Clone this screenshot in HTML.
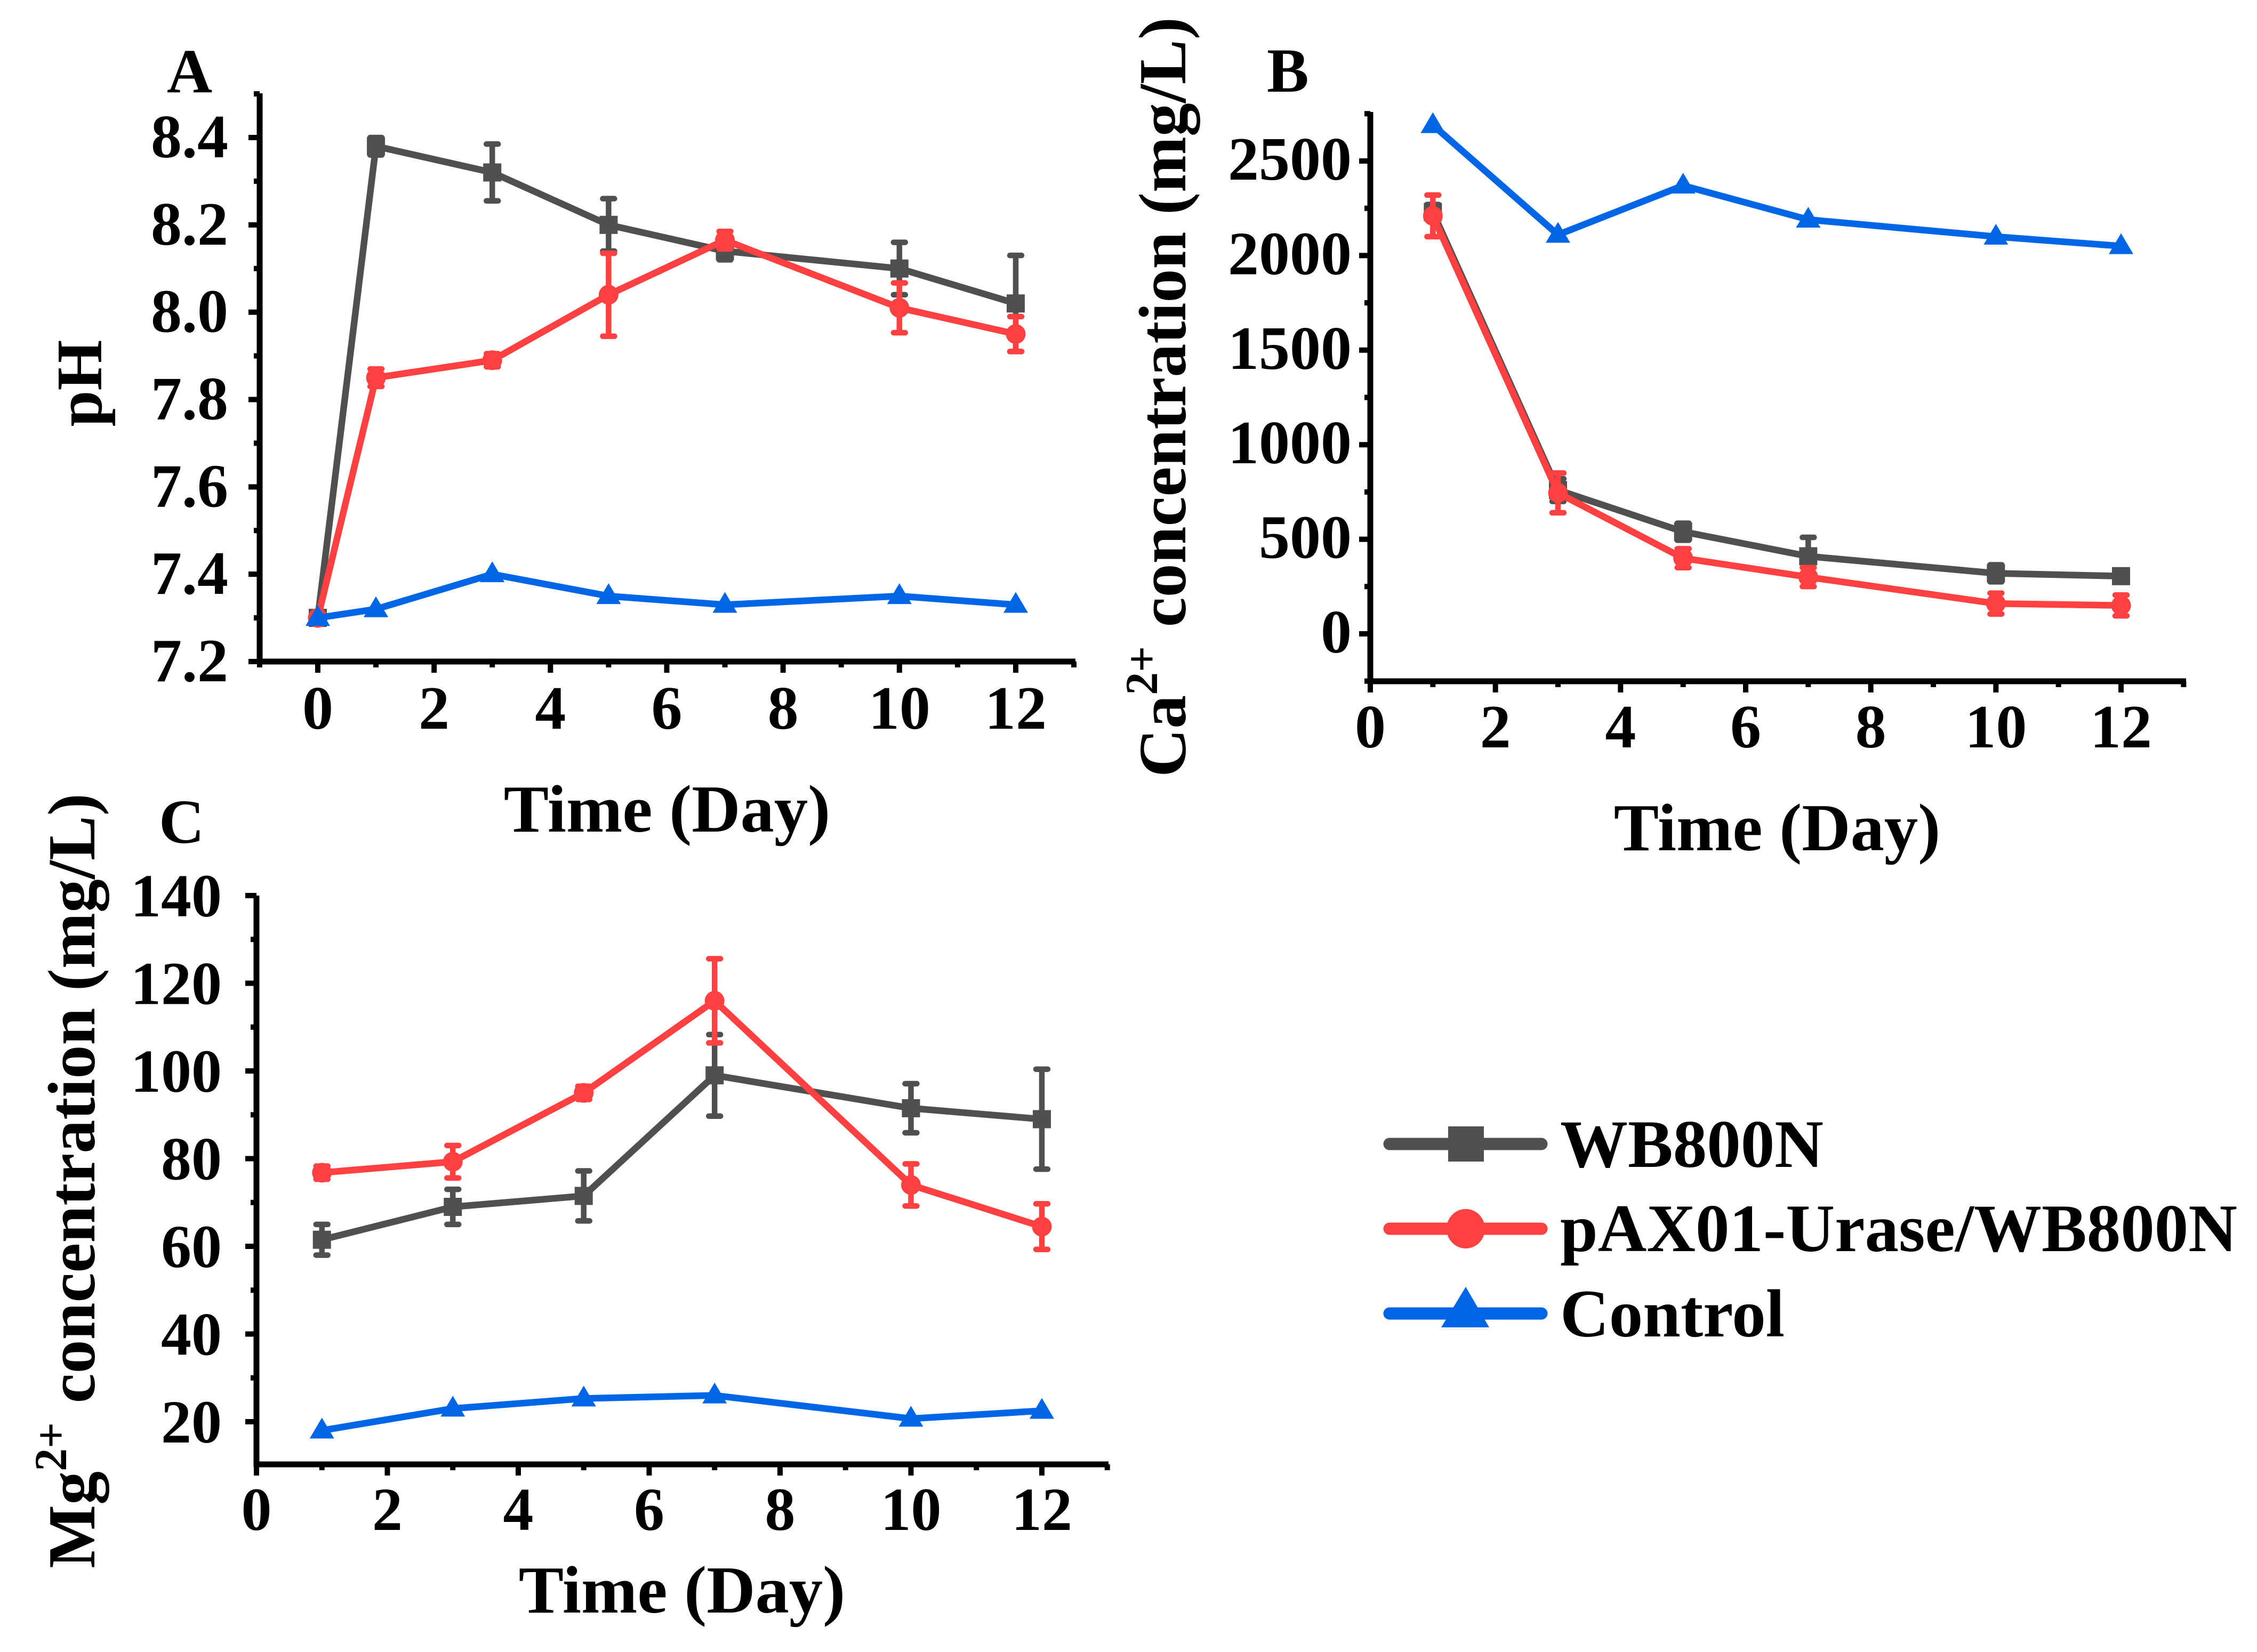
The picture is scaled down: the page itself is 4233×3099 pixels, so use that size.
<!DOCTYPE html>
<html lang="en">
<head>
<meta charset="utf-8">
<title>Time course of pH, calcium and magnesium concentrations</title>
<style>
html,body{margin:0;padding:0;background:#fff;width:4233px;height:3099px;overflow:hidden}
svg{display:block}
text{font-family:"Liberation Serif",serif;font-weight:bold;fill:#000}
</style>
</head>
<body>
<svg id="figure" xmlns="http://www.w3.org/2000/svg" width="4233" height="3099" viewBox="0 0 4233 3099">
  <rect x="0" y="0" width="4233" height="3099" fill="#ffffff"/>

  <text x="313" y="173" font-size="118">A</text>
  <text x="2376" y="172" font-size="118">B</text>
  <text x="298" y="1581" font-size="118">C</text>

  <text x="1251" y="1560" font-size="126.5" text-anchor="middle">Time (Day)</text>
  <text x="3333" y="1595" font-size="126.5" text-anchor="middle">Time (Day)</text>
  <text x="1279" y="3025" font-size="126.5" text-anchor="middle">Time (Day)</text>

  <text transform="translate(190,719) rotate(-90)" font-size="122" text-anchor="middle">pH</text>
  <text transform="translate(2223,745) rotate(-90)" font-size="126" text-anchor="middle">Ca<tspan font-size="86" dy="-53">2+</tspan><tspan dy="53" dx="4"> concentration (mg/L)</tspan></text>
  <text transform="translate(177,2215) rotate(-90)" font-size="126" text-anchor="middle">Mg<tspan font-size="86" dy="-53">2+</tspan><tspan dy="53" dx="4"> concentration (mg/L)</tspan></text>

  <g id="panel-a"></g>
  <g id="panel-b"></g>
  <g id="panel-c"></g>

  <g>
    <g>
      <line x1="2606" y1="2146" x2="2891" y2="2146" stroke="#505050" stroke-width="23" stroke-linecap="round"/>
      <rect x="2716" y="2113" width="67" height="66" fill="#505050"/>
      <text x="2926" y="2189" font-size="127">WB800N</text>
    </g>
    <g>
      <line x1="2606" y1="2305" x2="2891" y2="2305" stroke="#ff4040" stroke-width="23" stroke-linecap="round"/>
      <ellipse cx="2749" cy="2305" rx="36" ry="37" fill="#ff4040"/>
      <text x="2926" y="2347" font-size="127">pAX01-Urase/WB800N</text>
    </g>
    <g>
      <line x1="2606" y1="2464" x2="2891" y2="2464" stroke="#0066e6" stroke-width="23" stroke-linecap="round"/>
      <polygon points="2749,2414 2793,2490 2703,2490" fill="#0066e6"/>
      <text x="2926" y="2507" font-size="127">Control</text>
    </g>
  </g>
</svg>

<script>
// Panel A: pH
const phDays = [0, 1, 3, 5, 7, 10, 12];
const phWb800n = [7.30, 8.38, 8.32, 8.20, 8.14, 8.10, 8.02];
const phWb800nErr = [0, 0.02, 0.065, 0.06, 0.02, 0.06, 0.11];
const phUrase = [7.30, 7.85, 7.89, 8.04, 8.165, 8.01, 7.95];
const phUraseErr = [0, 0.02, 0.015, 0.095, 0.02, 0.057, 0.04];
const phControl = [7.30, 7.32, 7.40, 7.35, 7.33, 7.35, 7.33];
const phXTicks = [0, 2, 4, 6, 8, 10, 12];
const phXMinor = [-1, 1, 3, 5, 7, 9, 11, 13];
const phYTicks = ['7.2', '7.4', '7.6', '7.8', '8.0', '8.2', '8.4'];
const phYMinor = [7.3, 7.5, 7.7, 7.9, 8.1, 8.3, 8.5];

// Panel B: Ca2+
const caDays = [1, 3, 5, 7, 10, 12];
const caWb800n = [2230, 760, 540, 410, 320, 305];
const caWb800nErr = [40, 60, 45, 100, 45, 30];
const caUrase = [2210, 745, 400, 300, 160, 150];
const caUraseErr = [110, 105, 50, 50, 55, 55];
const caControl = [2690, 2110, 2370, 2190, 2100, 2050];
const caXTicks = [0, 2, 4, 6, 8, 10, 12];
const caXMinor = [1, 3, 5, 7, 9, 11, 13];
const caYTicks = ['0', '500', '1000', '1500', '2000', '2500'];
const caYMinor = [-250, 250, 750, 1250, 1750, 2250, 2750];

// Panel C: Mg2+
const mgDays = [1, 3, 5, 7, 10, 12];
const mgWb800n = [61.5, 69, 71.5, 99, 91.5, 89];
const mgWb800nErr = [3.5, 4, 5.7, 9.3, 5.6, 11.4];
const mgUrase = [76.8, 79.3, 95, 116, 74, 64.5];
const mgUraseErr = [1.5, 3.7, 1.5, 9.6, 4.8, 5.2];
const mgControl = [18, 23, 25.3, 26, 20.7, 22.5];
const mgXTicks = [0, 2, 4, 6, 8, 10, 12];
const mgXMinor = [1, 3, 5, 7, 9, 11, 13];
const mgYTicks = ['20', '40', '60', '80', '100', '120', '140'];
const mgYMinor = [30, 50, 70, 90, 110, 130];

const GRAY = '#505050';
const RED = '#ff4040';
const BLUE = '#0066e6';
const SVGNS = 'http://www.w3.org/2000/svg';

function el(parent, tag, attrs, text) {
  const node = document.createElementNS(SVGNS, tag);
  for (const k in attrs) node.setAttribute(k, attrs[k]);
  if (text !== undefined) node.textContent = text;
  parent.appendChild(node);
  return node;
}

function drawAxes(g, p) {
  const xs = v => p.x0 + (v - p.xA) * (p.x1 - p.x0) / (p.xB - p.xA);
  const ys = v => p.y0 + (v - p.yA) * (p.y1 - p.y0) / (p.yB - p.yA);

  const yAxis = el(g, 'line', {x1: p.axisX, y1: p.axisTop, x2: p.axisX, y2: p.axisY + 5, stroke: '#000', 'stroke-width': 11});
  
  
  const xAxis = el(g, 'line', {x1: p.axisX - 5, y1: p.axisY, x2: p.axisRight, y2: p.axisY, stroke: '#000', 'stroke-width': 11});
  
  

  p.xTicks.forEach(v => {
    const x = xs(v);
    const tick = el(g, 'line', {x1: x, y1: p.axisY, x2: x, y2: p.axisY + 21, stroke: '#000', 'stroke-width': 10});
    
    
    const label = el(g, 'text', {x: x, y: p.xLabelY, 'font-size': p.font, 'text-anchor': 'middle'}, String(v));
    
    
  });
  p.xMinor.forEach(v => {
    const x = xs(v);
    const tick = el(g, 'line', {x1: x, y1: p.axisY, x2: x, y2: p.axisY + 11, stroke: '#000', 'stroke-width': 10});
    
    
  });
  p.yTicks.forEach(s => {
    const y = ys(parseFloat(s));
    const tick = el(g, 'line', {x1: p.axisX, y1: y, x2: p.axisX - 21, y2: y, stroke: '#000', 'stroke-width': 10});
    
    
    const label = el(g, 'text', {x: p.yLabelX, y: y + p.yLabelDy, 'font-size': p.font, 'text-anchor': 'end'}, s);
    
    
  });
  p.yMinor.forEach(v => {
    const y = ys(v);
    const tick = el(g, 'line', {x1: p.axisX, y1: y, x2: p.axisX - 11, y2: y, stroke: '#000', 'stroke-width': 10});
    
    
  });
  return {xs, ys};
}

function drawSeries(g, scale, days, vals, errs, color, shape, name) {
  const {xs, ys} = scale;
  const group = el(g, 'g', {});
  
  

  const pts = days.map((d, i) => xs(d) + ',' + ys(vals[i])).join(' ');
  const line = el(group, 'polyline', {points: pts, fill: 'none', stroke: color, 'stroke-width': 12.5, 'stroke-linejoin': 'round'});
  
  

  days.forEach((d, i) => {
    const x = xs(d), y = ys(vals[i]);
    if (errs && errs[i] > 0) {
      const hi = ys(vals[i] + errs[i]), lo = ys(vals[i] - errs[i]);
      const d1 = 'M' + x + ' ' + hi + 'V' + lo + 'M' + (x - 11) + ' ' + hi + 'H' + (x + 11) + 'M' + (x - 11) + ' ' + lo + 'H' + (x + 11);
      const bar = el(group, 'path', {d: d1, fill: 'none', stroke: color, 'stroke-width': 10.5, 'stroke-linecap': 'round'});
      
      
    }
    let mark;
    if (shape === 'square') {
      mark = el(group, 'rect', {x: x - 17, y: y - 17, width: 34, height: 34, fill: color});
    } else if (shape === 'circle') {
      mark = el(group, 'circle', {cx: x, cy: y, r: 18.5, fill: color});
    } else {
      mark = el(group, 'polygon', {points: x + ',' + (y - 24) + ' ' + (x + 23) + ',' + (y + 15) + ' ' + (x - 23) + ',' + (y + 15), fill: color});
    }
    
    
  });
}

const panelA = {x0: 596, x1: 1905, xA: 0, xB: 12, y0: 1241, y1: 258, yA: 7.2, yB: 8.4,
  axisX: 487, axisY: 1241, axisTop: 175, axisRight: 2017, font: 116, xLabelY: 1367, yLabelX: 428, yLabelDy: 37,
  xTicks: phXTicks, xMinor: phXMinor, yTicks: phYTicks, yMinor: phYMinor};
const panelB = {x0: 2570, x1: 3978, xA: 0, xB: 12, y0: 1189, y1: 302, yA: 0, yB: 2500,
  axisX: 2570, axisY: 1278, axisTop: 210, axisRight: 4100, font: 116, xLabelY: 1402, yLabelX: 2535, yLabelDy: 35,
  xTicks: caXTicks, xMinor: caXMinor, yTicks: caYTicks, yMinor: caYMinor};
const panelC = {x0: 481, x1: 1954, xA: 0, xB: 12, y0: 2667, y1: 1680, yA: 20, yB: 140,
  axisX: 481, axisY: 2747, axisTop: 1680, axisRight: 2079, font: 114, xLabelY: 2870, yLabelX: 416, yLabelDy: 39,
  xTicks: mgXTicks, xMinor: mgXMinor, yTicks: mgYTicks, yMinor: mgYMinor};

const gA = document.getElementById('panel-a');
const sA = drawAxes(gA, panelA);
drawSeries(gA, sA, phDays, phWb800n, phWb800nErr, GRAY, 'square', 'wb800n');
drawSeries(gA, sA, phDays, phUrase, phUraseErr, RED, 'circle', 'pax01-urase');
drawSeries(gA, sA, phDays, phControl, null, BLUE, 'triangle', 'control');

const gB = document.getElementById('panel-b');
const sB = drawAxes(gB, panelB);
drawSeries(gB, sB, caDays, caWb800n, caWb800nErr, GRAY, 'square', 'wb800n');
drawSeries(gB, sB, caDays, caUrase, caUraseErr, RED, 'circle', 'pax01-urase');
drawSeries(gB, sB, caDays, caControl, null, BLUE, 'triangle', 'control');

const gC = document.getElementById('panel-c');
const sC = drawAxes(gC, panelC);
drawSeries(gC, sC, mgDays, mgWb800n, mgWb800nErr, GRAY, 'square', 'wb800n');
drawSeries(gC, sC, mgDays, mgUrase, mgUraseErr, RED, 'circle', 'pax01-urase');
drawSeries(gC, sC, mgDays, mgControl, null, BLUE, 'triangle', 'control');
</script>
</body>
</html>
